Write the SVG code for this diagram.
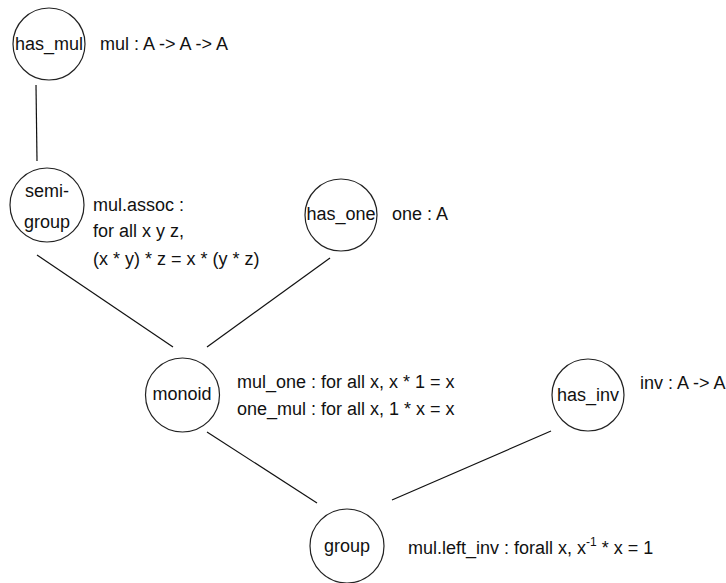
<svg xmlns="http://www.w3.org/2000/svg" width="726" height="583" viewBox="0 0 726 583">
  <style>
    .node { fill: #ffffff; stroke: #222222; stroke-width: 1.2; }
    .edge { stroke: #111111; stroke-width: 1.2; fill: none; }
    text { font-family: "Liberation Sans", Arial, sans-serif; font-size: 18px; fill: #111111; }
    .c { text-anchor: middle; }
  </style>
  <rect width="726" height="583" fill="#ffffff"/>

  <!-- connectors -->
  <g id="edges">
    <line class="edge" x1="36" y1="85" x2="37" y2="161"/>
    <line class="edge" x1="37" y1="255" x2="173" y2="347"/>
    <line class="edge" x1="330" y1="258" x2="207" y2="347"/>
    <line class="edge" x1="207" y1="432" x2="317" y2="503"/>
    <line class="edge" x1="551" y1="431" x2="392" y2="500"/>
  </g>

  <g id="has_mul">
    <circle class="node" cx="49" cy="44" r="36"/>
    <text class="c" x="49" y="50">has_mul</text>
    <text x="100" y="50">mul : A -&gt; A -&gt; A</text>
  </g>

  <g id="semigroup">
    <circle class="node" cx="47" cy="205" r="37"/>
    <text class="c" x="47" y="197">semi-</text>
    <text class="c" x="47" y="228">group</text>
    <text x="93" y="211">mul.assoc :</text>
    <text x="93" y="237">for all x y z,</text>
    <text x="93" y="265">(x * y) * z = x * (y * z)</text>
  </g>

  <g id="has_one">
    <circle class="node" cx="341" cy="215" r="36"/>
    <text class="c" x="341" y="220">has_one</text>
    <text x="392" y="220">one : A</text>
  </g>

  <g id="monoid">
    <circle class="node" cx="182.5" cy="395" r="37"/>
    <text class="c" x="182" y="400">monoid</text>
    <text x="237" y="388">mul_one : for all x, x * 1 = x</text>
    <text x="237" y="415">one_mul : for all x, 1 * x = x</text>
  </g>

  <g id="has_inv">
    <circle class="node" cx="588" cy="395" r="36"/>
    <text class="c" x="588" y="401">has_inv</text>
    <text x="640" y="389">inv : A -&gt; A</text>
  </g>

  <g id="group">
    <circle class="node" cx="347" cy="546" r="37"/>
    <text class="c" x="347" y="552">group</text>
    <text x="408" y="554">mul.left_inv : forall x, x<tspan font-size="12" dy="-8">-1</tspan><tspan dy="8"> * x = 1</tspan></text>
  </g>
</svg>
